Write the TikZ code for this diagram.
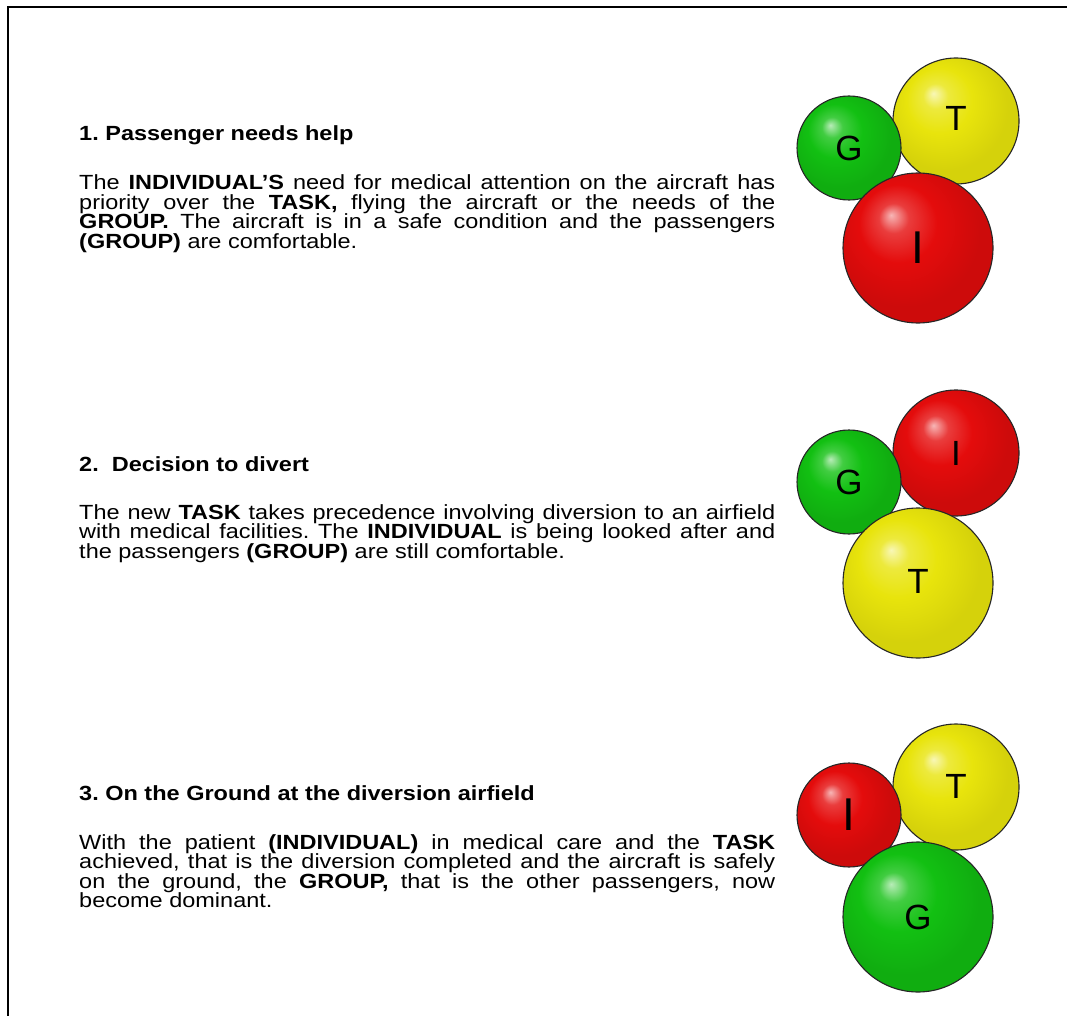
\documentclass[tikz,border=0pt]{standalone}
\usepackage{fontspec}
\setmainfont{Liberation Sans}
\usetikzlibrary{positioning}
\frenchspacing

% Cores das bolas
\definecolor{verde}{RGB}{18,192,18}
\definecolor{amarelo}{RGB}{232,228,12}
\definecolor{vermelho}{RGB}{228,12,12}

% Fonte do texto corrido
\newcommand{\fontetexto}{\fontsize{20.5}{19.5}\selectfont\lineskiplimit=-100pt\relax\hyphenpenalty=10000\relax}

% Sombreamentos com brilho no canto superior esquerdo
\pgfdeclareradialshading{bolaverde}{\pgfpoint{-9bp}{11bp}}{color(0bp)=(verde!30!white); color(5bp)=(verde!80!white); color(13bp)=(verde); color(25bp)=(verde!90!black); color(50bp)=(verde!90!black)}
\pgfdeclareradialshading{bolaamarela}{\pgfpoint{-9bp}{11bp}}{color(0bp)=(amarelo!30!white); color(5bp)=(amarelo!80!white); color(13bp)=(amarelo); color(25bp)=(amarelo!92!black); color(50bp)=(amarelo!92!black)}
\pgfdeclareradialshading{bolavermelha}{\pgfpoint{-9bp}{11bp}}{color(0bp)=(vermelho!30!white); color(5bp)=(vermelho!80!white); color(13bp)=(vermelho); color(25bp)=(vermelho!90!black); color(50bp)=(vermelho!90!black)}

\begin{document}
\begin{tikzpicture}[x=1pt, y=-1pt,
    titulo/.style={anchor=base west, inner sep=0pt, xscale=1.146, font=\bfseries\fontsize{20.5}{20}\selectfont},
    texto/.style={anchor=base west, inner sep=0pt, xscale=1.146, text width=607.3pt, align=justify, font=\fontetexto},
    bola/.style={circle, draw=black!85, line width=1.1pt, inner sep=0pt, font=\fontsize{35}{35}\selectfont},
    letragrande/.style={font=\fontsize{46}{46}\selectfont},
    pequena/.style={bola, minimum size=104pt},
    media/.style={bola, minimum size=126pt},
    grande/.style={bola, minimum size=150pt}]
  \useasboundingbox (0,0) rectangle (1067,1016);

  % Moldura
  \draw[line width=1.4pt] (8,1016) -- (8,7) -- (1067,7);

  % Caso 1
  \node[titulo] (tit1) at (79,141) {1. Passenger needs help};
  \node[texto] (txt1) at (79,190) {The \textbf{INDIVIDUAL’S} need for medical attention on the aircraft has\linebreak
    priority over the \textbf{TASK,} flying the aircraft or the needs of the\linebreak
    \textbf{GROUP.} The aircraft is in a safe condition and the passengers\linebreak
    \textbf{(GROUP)} are comfortable.};
  \node[media, shading=bolaamarela] (t1) at (956,121) {\raisebox{5pt}{T}};
  \node[pequena, shading=bolaverde] (g1) at (849,148) {G};
  \node[grande, shading=bolavermelha, letragrande] (i1) at (918,248) {I};

  % Caso 2
  \node[titulo] (tit2) at (79,471) {2.\ \ Decision to divert};
  \node[texto] (txt2) at (79,519) {The new \textbf{TASK} takes precedence involving diversion to an airfield\linebreak
    with medical facilities. The \textbf{INDIVIDUAL} is being looked after and\linebreak
    the passengers \textbf{(GROUP)} are still comfortable.};
  \node[media, shading=bolavermelha] (i2) at (956,453) {I};
  \node[pequena, shading=bolaverde] (g2) at (849,482) {\raisebox{-4pt}{G}};
  \node[grande, shading=bolaamarela] (t2) at (918,583) {\raisebox{4pt}{T}};

  % Caso 3
  \node[titulo] (tit3) at (79,800) {3. On the Ground at the diversion airfield};
  \node[texto] (txt3) at (79,849) {With the patient \textbf{(INDIVIDUAL)} in medical care and the \textbf{TASK}\linebreak
    achieved, that is the diversion completed and the aircraft is safely\linebreak
    on the ground, the \textbf{GROUP,} that is the other passengers, now\linebreak
    become dominant.};
  \node[media, shading=bolaamarela] (t3) at (956,787) {\raisebox{2pt}{T}};
  \node[pequena, shading=bolavermelha, letragrande] (i3) at (849,815) {I};
  \node[grande, shading=bolaverde] (g3) at (918,917) {G};
\end{tikzpicture}
\end{document}
